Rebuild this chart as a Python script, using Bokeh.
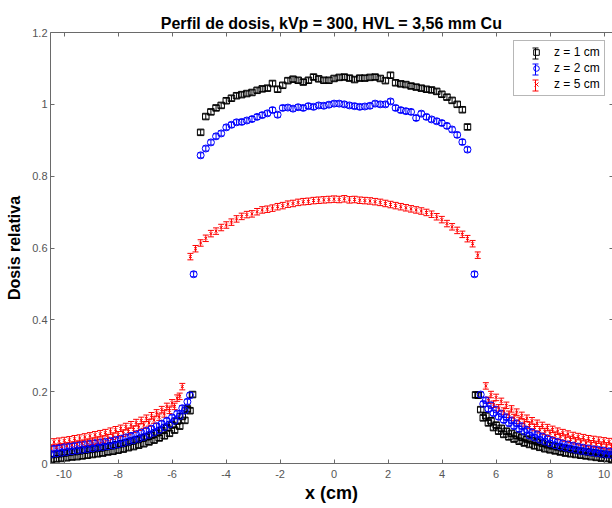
import numpy as np
from bokeh.plotting import figure
from bokeh.models import (ColumnDataSource, Whisker, TeeHead, LinearAxis, FixedTicker,
                          Range1d, Legend, LegendItem)
from bokeh.embed import file_html
from bokeh.resources import INLINE

TITLE = "Perfil de dosis, kVp = 300, HVL = 3,56 mm Cu"
X_LABEL = "x (cm)"
Y_LABEL = "Dosis relativa"
series_labels = ["z = 1 cm", "z = 2 cm", "z = 5 cm"]

x_ticks = [-10, -8, -6, -4, -2, 0, 2, 4, 6, 8, 10]
x_tick_labels = ["-10", "-8", "-6", "-4", "-2", "0", "2", "4", "6", "8", "10"]
y_ticks = [0, 0.2, 0.4, 0.6, 0.8, 1.0, 1.2]
y_tick_labels = ["0", "0.2", "0.4", "0.6", "0.8", "1", "1.2"]

# central field positions (cm)
x_center = [-4.94, -4.75, -4.56, -4.37, -4.18, -3.99, -3.80, -3.61, -3.42, -3.23, -3.04,
            -2.85, -2.66, -2.47, -2.28, -2.09, -1.90, -1.71, -1.52, -1.33, -1.14, -0.95,
            -0.76, -0.57, -0.38, -0.19, 0.00, 0.19, 0.38, 0.57, 0.76, 0.95, 1.14, 1.33,
            1.52, 1.71, 1.90, 2.09, 2.28, 2.47, 2.66, 2.85, 3.04, 3.23, 3.42, 3.61, 3.80,
            3.99, 4.18, 4.37, 4.56, 4.75, 4.94]
x_center_red = [-5.32, -5.13, -4.94, -4.75, -4.56, -4.37, -4.18, -3.99, -3.80, -3.61, -3.42,
                -3.23, -3.04, -2.85, -2.66, -2.47, -2.28, -2.09, -1.90, -1.71, -1.52, -1.33,
                -1.14, -0.95, -0.76, -0.57, -0.38, -0.19, 0.00, 0.19, 0.38, 0.57, 0.76, 0.95,
                1.14, 1.33, 1.52, 1.71, 1.90, 2.09, 2.28, 2.47, 2.66, 2.85, 3.04, 3.23, 3.42,
                3.61, 3.80, 3.99, 4.18, 4.37, 4.56, 4.75, 4.94, 5.13, 5.32]
x_blue_edge = [-5.20, 5.20]

# out-of-field tail positions (cm), two interleaved grids
x_left_a = [-10.37, -10.18, -9.99, -9.80, -9.61, -9.42, -9.23, -9.04, -8.85, -8.66, -8.47,
            -8.28, -8.09, -7.90, -7.71, -7.52, -7.33, -7.14, -6.95, -6.76, -6.57, -6.38,
            -6.19, -6.00, -5.81, -5.62, -5.43, -5.24]
x_left_b = [-10.465, -10.275, -10.085, -9.895, -9.705, -9.515, -9.325, -9.135, -8.945,
            -8.755, -8.565, -8.375, -8.185, -7.995, -7.805, -7.615, -7.425, -7.235, -7.045,
            -6.855, -6.665, -6.475, -6.285, -6.095, -5.905, -5.715, -5.525, -5.335]
x_right_a = [5.24, 5.43, 5.62, 5.81, 6.00, 6.19, 6.38, 6.57, 6.76, 6.95, 7.14, 7.33, 7.52,
             7.71, 7.90, 8.09, 8.28, 8.47, 8.66, 8.85, 9.04, 9.23, 9.42, 9.61, 9.80, 9.99,
             10.18, 10.37, 10.56]
x_right_b = [5.335, 5.525, 5.715, 5.905, 6.095, 6.285, 6.475, 6.665, 6.855, 7.045, 7.235,
             7.425, 7.615, 7.805, 7.995, 8.185, 8.375, 8.565, 8.755, 8.945, 9.135, 9.325,
             9.515, 9.705, 9.895, 10.085, 10.275, 10.465]

# z = 1 cm
z1_center = [0.922, 0.966, 0.979, 0.990, 0.997, 1.010, 1.017, 1.024, 1.027, 1.030, 1.033,
             1.039, 1.043, 1.045, 1.058, 1.042, 1.053, 1.066, 1.070, 1.067, 1.062, 1.067,
             1.076, 1.071, 1.067, 1.067, 1.072, 1.075, 1.076, 1.073, 1.069, 1.073, 1.073,
             1.075, 1.076, 1.072, 1.066, 1.081, 1.060, 1.057, 1.055, 1.051, 1.048, 1.045,
             1.042, 1.040, 1.036, 1.028, 1.020, 1.011, 1.000, 0.985, 0.937]
z1_left_a = [0.025, 0.027, 0.029, 0.031, 0.033, 0.035, 0.037, 0.039, 0.041, 0.043, 0.046,
             0.049, 0.052, 0.055, 0.058, 0.062, 0.066, 0.070, 0.074, 0.079, 0.085, 0.092,
             0.099, 0.107, 0.118, 0.131, 0.152, 0.192]
z1_left_b = [0.011, 0.013, 0.014, 0.016, 0.018, 0.019, 0.021, 0.023, 0.025, 0.027, 0.029,
             0.032, 0.034, 0.037, 0.040, 0.044, 0.047, 0.051, 0.055, 0.060, 0.065, 0.071,
             0.077, 0.084, 0.093, 0.104, 0.120, 0.147]
z1_right_a = [0.191, 0.150, 0.133, 0.119, 0.107, 0.098, 0.090, 0.084, 0.078, 0.073, 0.068,
              0.064, 0.060, 0.056, 0.052, 0.049, 0.046, 0.043, 0.041, 0.038, 0.036, 0.034,
              0.032, 0.030, 0.028, 0.026, 0.025, 0.023, 0.022]
z1_right_b = [0.190, 0.127, 0.113, 0.100, 0.090, 0.081, 0.074, 0.068, 0.062, 0.057, 0.053,
              0.049, 0.045, 0.041, 0.038, 0.035, 0.032, 0.029, 0.027, 0.025, 0.023, 0.021,
              0.019, 0.017, 0.015, 0.014, 0.012, 0.011]
z1_err = 0.007

# z = 2 cm
z2_center = [0.858, 0.877, 0.894, 0.911, 0.919, 0.936, 0.943, 0.950, 0.951, 0.955, 0.959,
             0.965, 0.970, 0.975, 0.984, 0.971, 0.990, 0.991, 0.988, 0.992, 0.990, 0.995,
             0.993, 0.997, 0.996, 0.999, 1.002, 1.002, 1.000, 0.997, 0.995, 0.993, 0.994,
             0.996, 1.002, 1.000, 1.000, 1.008, 0.990, 0.984, 0.981, 0.979, 0.962, 0.974,
             0.965, 0.958, 0.953, 0.948, 0.940, 0.930, 0.915, 0.895, 0.874]
z2_edge = [0.527, 0.527]
z2_left_a = [0.041, 0.043, 0.045, 0.047, 0.049, 0.051, 0.053, 0.055, 0.057, 0.059, 0.061,
             0.063, 0.066, 0.069, 0.073, 0.077, 0.081, 0.086, 0.091, 0.097, 0.104, 0.111,
             0.119, 0.128, 0.139, 0.154, 0.172]
z2_left_b = [0.026, 0.028, 0.030, 0.032, 0.034, 0.036, 0.038, 0.040, 0.042, 0.044, 0.046,
             0.048, 0.050, 0.053, 0.057, 0.061, 0.065, 0.069, 0.074, 0.080, 0.086, 0.093,
             0.101, 0.109, 0.119, 0.132, 0.148, 0.190]
z2_right_a = [0.192, 0.176, 0.162, 0.150, 0.139, 0.129, 0.120, 0.112, 0.104, 0.094, 0.087,
              0.081, 0.075, 0.069, 0.064, 0.060, 0.056, 0.053, 0.050, 0.047, 0.044, 0.042,
              0.040, 0.038, 0.036, 0.034, 0.033, 0.032]
z2_right_b = [0.166, 0.152, 0.140, 0.130, 0.121, 0.112, 0.104, 0.096, 0.089, 0.078, 0.072,
              0.066, 0.061, 0.056, 0.051, 0.047, 0.044, 0.041, 0.038, 0.035, 0.033, 0.031,
              0.029, 0.027, 0.025, 0.024, 0.023]
z2_err = 0.007

# z = 5 cm
z5_center = [0.576, 0.598, 0.614, 0.627, 0.640, 0.647, 0.657, 0.664, 0.672, 0.681, 0.688,
             0.693, 0.695, 0.701, 0.706, 0.708, 0.711, 0.715, 0.718, 0.722, 0.724, 0.727,
             0.729, 0.730, 0.732, 0.733, 0.734, 0.735, 0.736, 0.735, 0.737, 0.734, 0.735,
             0.733, 0.732, 0.731, 0.729, 0.727, 0.724, 0.721, 0.718, 0.715, 0.712, 0.709,
             0.706, 0.703, 0.699, 0.694, 0.687, 0.679, 0.668, 0.659, 0.649, 0.638, 0.626,
             0.612, 0.580]
z5_left_a = [0.060, 0.062, 0.064, 0.066, 0.069, 0.071, 0.074, 0.077, 0.080, 0.083, 0.086,
             0.090, 0.094, 0.098, 0.103, 0.108, 0.114, 0.120, 0.126, 0.133, 0.141, 0.150,
             0.159, 0.169, 0.182, 0.214]
z5_left_b = [0.043, 0.045, 0.047, 0.049, 0.051, 0.054, 0.056, 0.059, 0.062, 0.065, 0.068,
             0.072, 0.076, 0.080, 0.084, 0.089, 0.095, 0.101, 0.107, 0.113, 0.121, 0.129,
             0.138, 0.148, 0.159, 0.187]
z5_right_a = [0.216, 0.192, 0.184, 0.173, 0.162, 0.152, 0.143, 0.134, 0.126, 0.119, 0.112,
              0.106, 0.100, 0.095, 0.090, 0.086, 0.082, 0.078, 0.075, 0.072, 0.069, 0.067,
              0.065, 0.063, 0.061, 0.059, 0.057]
z5_right_b = [0.176, 0.165, 0.155, 0.146, 0.137, 0.128, 0.120, 0.113, 0.106, 0.100, 0.094,
              0.089, 0.084, 0.079, 0.075, 0.071, 0.067, 0.063, 0.060, 0.057, 0.055, 0.053,
              0.051, 0.049, 0.047, 0.045]
z5_err = 0.009

FONT = "Liberation Sans"
AXIS_COLOR = "#6a6a6a"
LABEL_COLOR = "#555555"

LEG_X, LEG_Y = 463, 367  # legend offset from frame's bottom-left (px)
LEG_PAD, LEG_ROW, LEG_SP, LEG_GW = 4, 14, 2, 36

p = figure(width=612, height=508, x_range=Range1d(-10.5, 10.31), y_range=Range1d(0, 1.2),
           x_axis_type=None, y_axis_type=None, output_backend="svg", toolbar_location=None,
           min_border_left=50, min_border_right=0, min_border_top=32, min_border_bottom=45)
p.outline_line_color = None
p.background_fill_color = "white"
p.border_fill_color = "white"

p.title.text = TITLE
p.title.text_font = FONT
p.title.text_font_style = "bold"
p.title.text_font_size = "16px"
p.title.text_color = "black"
p.title.align = "center"
p.title.standoff = 2


def make_axis(ticks, labels, show):
    ax = LinearAxis(ticker=FixedTicker(ticks=ticks))
    ax.major_label_text_font = FONT
    if show:
        ax.major_label_overrides = {t: l for t, l in zip(ticks, labels)}
        ax.major_label_text_font_size = "11px"
    else:
        ax.major_label_overrides = {t: "" for t in ticks}
        ax.major_label_standoff = 0
        ax.major_label_text_font_size = "0px"
    ax.major_tick_in = 4
    ax.major_tick_out = 0
    ax.minor_tick_line_color = None
    ax.axis_line_color = AXIS_COLOR
    ax.major_tick_line_color = AXIS_COLOR
    ax.major_label_text_color = LABEL_COLOR
    ax.axis_label_text_font = FONT
    ax.axis_label_text_font_style = "bold"
    ax.axis_label_text_font_size = "16px"
    ax.axis_label_text_color = "black"
    return ax


xb = make_axis(x_ticks, x_tick_labels, True)
xb.axis_label = X_LABEL
xb.axis_label_text_font_size = "18px"
xb.major_label_standoff = 6
xb.axis_label_standoff = 2
p.add_layout(xb, "below")

yl = make_axis(y_ticks, y_tick_labels, True)
yl.axis_label = Y_LABEL
yl.major_label_standoff = 3
yl.axis_label_standoff = 6
p.add_layout(yl, "left")

xt = make_axis(x_ticks, x_tick_labels, False)
p.add_layout(xt, "above")

yr = make_axis(y_ticks, y_tick_labels, False)
yr.axis_line_color = None
yr.major_tick_in = 3
p.add_layout(yr, "right")

series = [
    (series_labels[0], "#000000", "square", 6.5, z1_err,
     x_left_b + x_left_a + x_center + x_right_a + x_right_b,
     z1_left_b + z1_left_a + z1_center + z1_right_a + z1_right_b),
    (series_labels[1], "#0000ff", "circle", 7, z2_err,
     x_left_b + x_left_a[:-1] + [x_blue_edge[0]] + x_center + [x_blue_edge[1]]
     + x_right_a[1:] + x_right_b[1:],
     z2_left_b + z2_left_a + [z2_edge[0]] + z2_center + [z2_edge[1]] + z2_right_a + z2_right_b),
    (series_labels[2], "#ff0000", "x", 4, z5_err,
     x_left_b[:-2] + x_left_a[:-2] + x_center_red + x_right_a[2:] + x_right_b[2:],
     z5_left_b + z5_left_a + z5_center + z5_right_a + z5_right_b),
]

items = []
colors = []
for label, col, marker, msize, err, xs, ys in series:
    ys = np.array(ys, dtype=float)
    src = ColumnDataSource(dict(x=xs, y=ys, upper=ys + err, lower=ys - err))
    w = Whisker(source=src, base="x", upper="upper", lower="lower", dimension="height",
                line_color=col, line_width=1,
                upper_head=TeeHead(size=6, line_color=col, line_width=1),
                lower_head=TeeHead(size=6, line_color=col, line_width=1))
    p.add_layout(w)
    r = p.scatter("x", "y", source=src, marker=marker, size=msize, fill_color=None,
                  line_color=col, line_width=1)
    items.append(LegendItem(label=label, renderers=[r]))
    colors.append(col)

legend = Legend(items=items, location=(LEG_X, LEG_Y))
legend.label_text_font = FONT
legend.label_text_font_size = "12px"
legend.label_text_color = "black"
legend.padding = LEG_PAD
legend.spacing = LEG_SP
legend.margin = 0
legend.glyph_width = LEG_GW
legend.glyph_height = LEG_ROW
legend.label_height = LEG_ROW
legend.label_standoff = 0
legend.border_line_color = "#707070"
legend.border_line_width = 1
legend.background_fill_alpha = 0
p.add_layout(legend, "center")

# error-bar part of the legend icons (screen units, aligned with the legend rows)
n = len(items)
leg_h = 2 * LEG_PAD + n * LEG_ROW + (n - 1) * LEG_SP
leg_top = LEG_Y + leg_h          # measured upward from frame bottom
for i, col in enumerate(colors):
    cy = leg_top - LEG_PAD - i * (LEG_ROW + LEG_SP) - LEG_ROW / 2
    cx = LEG_X + LEG_PAD + LEG_GW / 2
    icon = ColumnDataSource(dict(b=[cx], u=[cy + 5.5], l=[cy - 5.5]))
    wl = Whisker(source=icon, base="b", upper="u", lower="l", dimension="height",
                 base_units="screen", upper_units="screen", lower_units="screen",
                 line_color=col, line_width=1, level="annotation",
                 upper_head=TeeHead(size=6, line_color=col, line_width=1),
                 lower_head=TeeHead(size=6, line_color=col, line_width=1))
    p.add_layout(wl)

open("out.html", "w").write(file_html(p, INLINE))
